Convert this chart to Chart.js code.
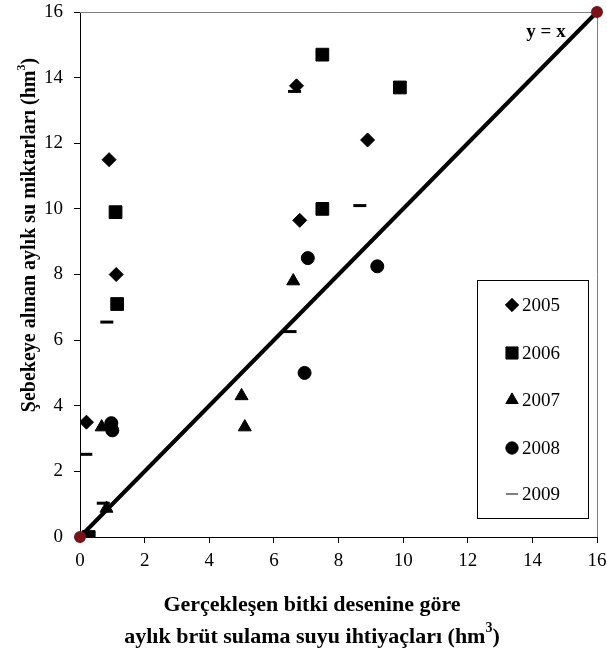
<!DOCTYPE html>
<html>
<head>
<meta charset="utf-8">
<script src="https://cdn.jsdelivr.net/npm/chart.js@4/dist/chart.umd.min.js"></script>
<style>
  html, body { margin: 0; padding: 0; background: #fff; }
  #wrap { width: 607px; height: 653px; position: relative; }
</style>
</head>
<body>
<div id="wrap"><canvas id="myChart" width="607" height="653"></canvas></div>
<script>
// values (x = need, y = supplied), hm3
const years = ['2005', '2006', '2007', '2008', '2009']
const x2005 = [0.2, 0.9, 1.12, 6.7, 6.8, 8.9]
const y2005 = [3.5, 11.5, 8.0, 13.75, 9.65, 12.1]
const x2006 = [0.27, 1.1, 1.15, 7.5, 7.5, 9.9]
const y2006 = [0, 9.9, 7.1, 14.7, 10.0, 13.7]
const x2007 = [0.82, 0.67, 5.0, 5.1, 6.6]
const y2007 = [0.87, 3.35, 4.3, 3.35, 7.8]
const x2008 = [0.97, 1.0, 7.05, 9.2, 6.95]
const y2008 = [3.47, 3.25, 8.5, 8.25, 5.0]
const x2009 = [0.18, 0.72, 0.83, 6.5, 6.64, 8.66]
const y2009 = [2.52, 1.03, 6.55, 6.26, 13.58, 10.1]
const lineX = [0, 16]
const lineY = [0, 16]
const xTicks = [0, 2, 4, 6, 8, 10, 12, 14, 16]

const serif = "'Liberation Serif', 'Times New Roman', serif"

function pts(xs, ys) {
  return xs.map((x, i) => ({x: x, y: ys[i]}))
}

let styles = [
  {pointStyle: 'rectRot', radius: 7, borderWidth: 1},
  {pointStyle: 'rect', radius: 9, borderWidth: 1},
  {pointStyle: 'triangle', radius: 7.5, borderWidth: 1},
  {pointStyle: 'circle', radius: 6.5, borderWidth: 1},
  {pointStyle: 'line', radius: 6.5, borderWidth: 3}
]
let allX = [x2005, x2006, x2007, x2008, x2009]
let allY = [y2005, y2006, y2007, y2008, y2009]

let datasets = years.map((yr, i) => ({
  label: yr,
  data: pts(allX[i], allY[i]),
  pointStyle: styles[i].pointStyle,
  pointRadius: styles[i].radius,
  pointBorderWidth: styles[i].borderWidth,
  backgroundColor: '#000',
  borderColor: '#000',
  order: 2
}))

datasets.push({
  type: 'line',
  label: 'y = x',
  data: pts(lineX, lineY),
  borderColor: '#000',
  borderWidth: 4,
  pointRadius: 4,
  pointBackgroundColor: '#7a1218',
  pointBorderColor: '#7a1218',
  clip: false,
  order: 1
})

function drawSupText(ctx, before, sup, after, x, y, size) {
  ctx.font = `bold ${size}px ${serif}`
  let w1 = ctx.measureText(before).width
  let w3 = ctx.measureText(after).width
  ctx.font = `bold ${Math.round(size * 0.62)}px ${serif}`
  let w2 = ctx.measureText(sup).width
  let start = x - (w1 + w2 + w3) / 2
  ctx.textAlign = 'left'
  ctx.textBaseline = 'middle'
  ctx.font = `bold ${size}px ${serif}`
  ctx.fillText(before, start, y)
  ctx.font = `bold ${Math.round(size * 0.62)}px ${serif}`
  ctx.fillText(sup, start + w1, y - size * 0.38)
  ctx.font = `bold ${size}px ${serif}`
  ctx.fillText(after, start + w1 + w2, y)
}

const decorPlugin = {
  id: 'decor',
  beforeDatasetsDraw(chart) {
    let ctx = chart.ctx
    let a = chart.chartArea
    ctx.save()
    ctx.strokeStyle = '#808080'
    ctx.lineWidth = 1
    ctx.beginPath()
    ctx.moveTo(a.left, a.top + 0.5)
    ctx.lineTo(a.right + 0.5, a.top + 0.5)
    ctx.lineTo(a.right + 0.5, a.bottom)
    ctx.stroke()
    ctx.restore()
  },
  afterDraw(chart) {
    let ctx = chart.ctx
    ctx.save()
    ctx.fillStyle = '#000'

    // y = x label
    ctx.font = `bold 19px ${serif}`
    ctx.textAlign = 'center'
    ctx.textBaseline = 'middle'
    ctx.fillText('y = x', 546, 32)

    // axis titles
    drawSupText(ctx, 'Gerçekleşen bitki desenine göre', '', '', 312, 605, 22)
    drawSupText(ctx, 'aylık brüt sulama suyu ihtiyaçları (hm', '3', ')', 312, 637, 22)
    ctx.save()
    ctx.translate(30, 235)
    ctx.rotate(-Math.PI / 2)
    drawSupText(ctx, 'Şebekeye alınan aylık su miktarları (hm', '3', ')', 0, 0, 20)
    ctx.restore()

    // legend box
    let lx = 477, ly = 280, lw = 111, lh = 238
    ctx.fillStyle = '#fff'
    ctx.fillRect(lx, ly, lw, lh)
    ctx.strokeStyle = '#000'
    ctx.lineWidth = 1
    ctx.strokeRect(lx + 0.5, ly + 0.5, lw, lh)
    let rows = [305, 353, 400, 448, 494]
    years.forEach((yr, i) => {
      ctx.fillStyle = '#000'
      ctx.strokeStyle = '#000'
      Chart.helpers.drawPoint(ctx, {
        pointStyle: styles[i].pointStyle,
        radius: styles[i].radius * 0.95,
        rotation: 0,
        borderWidth: styles[i].borderWidth
      }, 512, rows[i])
      ctx.font = `19px ${serif}`
      ctx.textAlign = 'left'
      ctx.textBaseline = 'middle'
      ctx.fillStyle = '#000'
      ctx.fillText(yr, 522, rows[i] + 1)
    })
    ctx.restore()
  }
}

let ctx = document.querySelector('#myChart').getContext('2d')
let myChart = new Chart(ctx, {
  type: 'scatter',
  data: {datasets: datasets},
  plugins: [decorPlugin],
  options: {
    responsive: false,
    maintainAspectRatio: false,
    animation: false,
    devicePixelRatio: 1,
    layout: {padding: {top: 12, right: 9, left: 0, bottom: 0}},
    plugins: {
      legend: {display: false},
      tooltip: {enabled: false}
    },
    scales: {
      x: {
        type: 'linear',
        min: 0,
        max: 16,
        afterBuildTicks: scale => { scale.ticks = xTicks.map(v => ({value: v})) },
        afterFit: scale => {
          scale.height = 116
          scale.paddingLeft = 0
          scale.paddingRight = 0
        },
        grid: {drawOnChartArea: false, drawTicks: true, tickLength: 6, color: '#000'},
        border: {color: '#000', width: 1},
        ticks: {color: '#000', padding: 7, font: {family: serif, size: 19}, maxRotation: 0}
      },
      y: {
        type: 'linear',
        min: 0,
        max: 16,
        afterBuildTicks: scale => { scale.ticks = xTicks.map(v => ({value: v})) },
        afterFit: scale => {
          scale.width = 80
          scale.paddingTop = 0
          scale.paddingBottom = 0
        },
        grid: {drawOnChartArea: false, drawTicks: true, tickLength: 6, color: '#000'},
        border: {color: '#000', width: 1},
        ticks: {color: '#000', padding: 11, font: {family: serif, size: 19}}
      }
    }
  }
})
</script>
</body>
</html>
